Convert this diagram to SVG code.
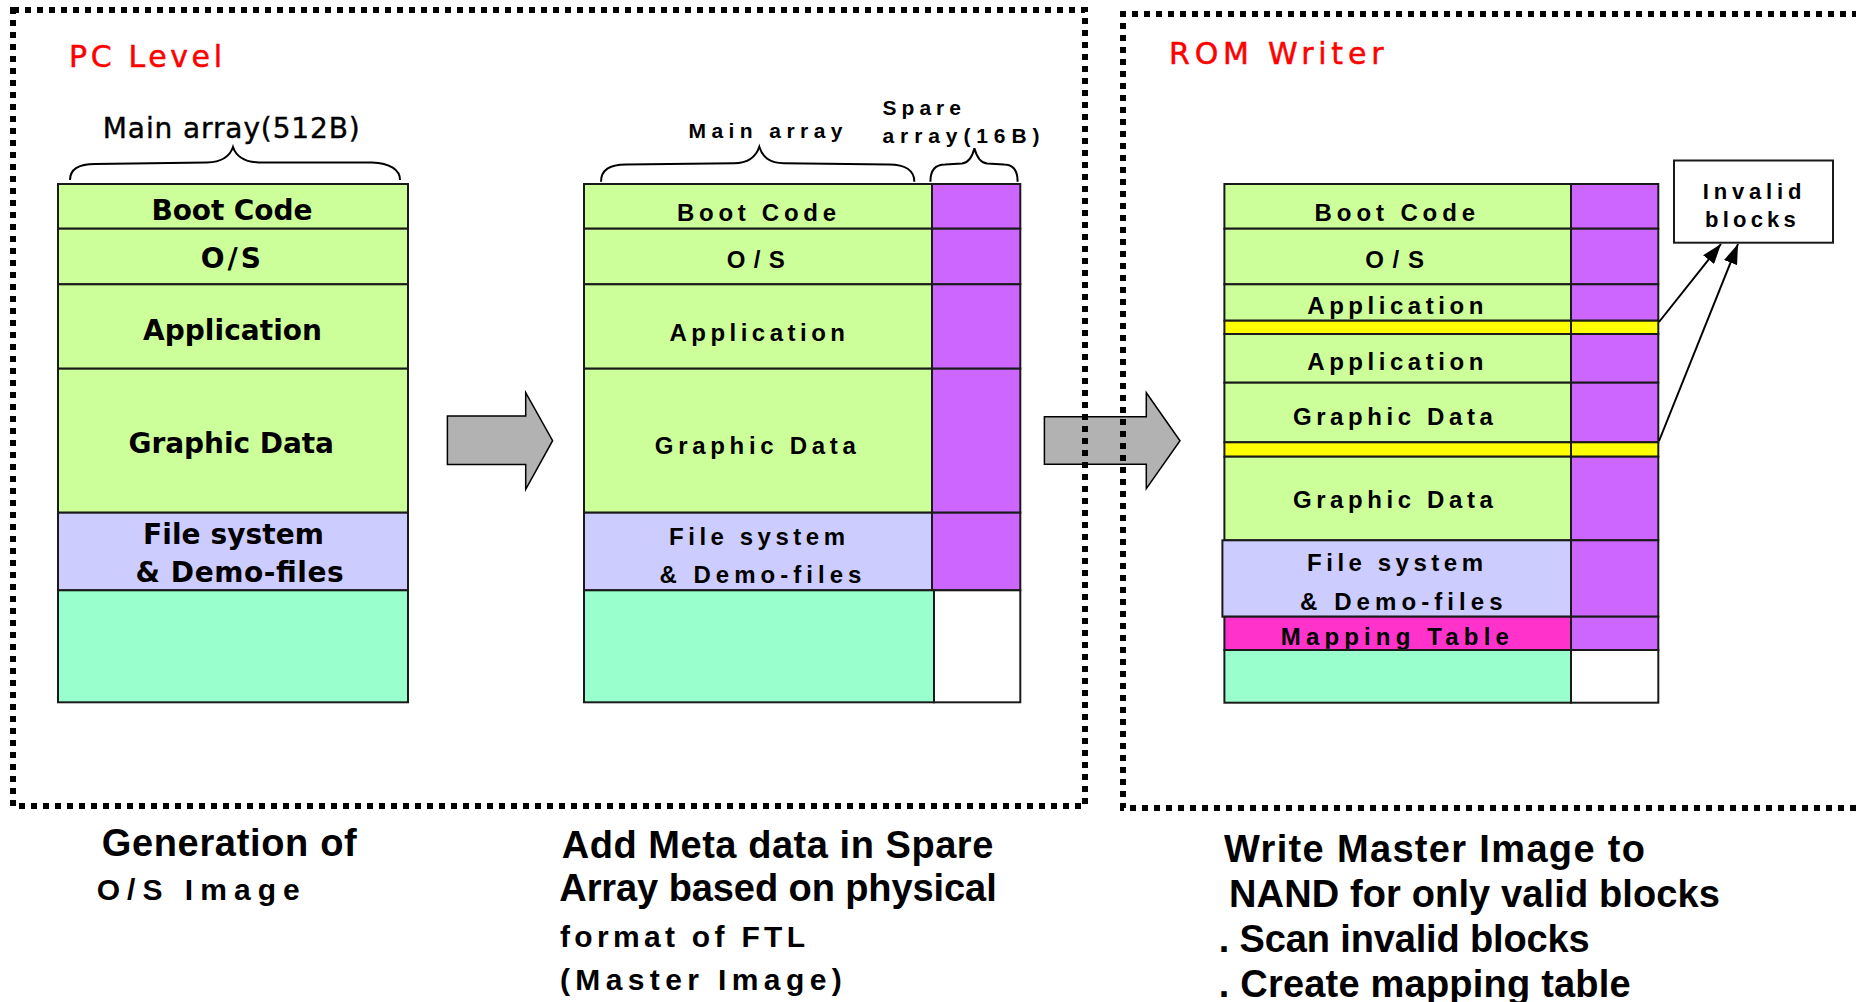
<svg xmlns="http://www.w3.org/2000/svg" width="1856" height="1002" viewBox="0 0 1856 1002">
<defs>
<style>
.frame{fill:none;stroke:#000;stroke-width:6;stroke-dasharray:6 6}
.cell{stroke:#1a1a1a;stroke-width:2}
.fg{fill:#CCFF99}.fp{fill:#CC66FF}.fl{fill:#CCCCFF}.ft{fill:#99FFCC}.fy{fill:#FFFF00}.fm{fill:#FF33CC}.fw{fill:#FFFFFF}
.brace{fill:none;stroke:#000;stroke-width:2}
.block{fill:#B2B2B2;stroke:#000;stroke-width:1.5}
.conn{fill:none;stroke:#000;stroke-width:2}
.title{font-family:"DejaVu Sans",Verdana,sans-serif;font-size:30px;fill:#FF0000;stroke:#FF0000;stroke-width:0.5}
.lab1{font-family:"DejaVu Sans",Verdana,sans-serif;font-weight:bold;font-size:28px;fill:#000}
.lab1r{font-family:"DejaVu Sans",Verdana,sans-serif;font-size:28px;fill:#000;stroke:#000;stroke-width:0.4}
.lab2{font-family:"Liberation Sans",Arial,sans-serif;font-weight:bold;font-size:24px;fill:#000}
.lab3{font-family:"Liberation Sans",Arial,sans-serif;font-weight:bold;font-size:21px;fill:#000}
.lab4{font-family:"Liberation Sans",Arial,sans-serif;font-weight:bold;font-size:22px;fill:#000}
.big{font-family:"Liberation Sans",Arial,sans-serif;font-weight:bold;font-size:38px;fill:#000}
.mid{font-family:"Liberation Sans",Arial,sans-serif;font-weight:bold;font-size:30px;fill:#000}
</style>
<marker id="ah" markerUnits="userSpaceOnUse" markerWidth="20" markerHeight="14" refX="20" refY="7" orient="auto">
<path d="M0,0 L20,7 L0,14 Z" fill="#000"/>
</marker>
</defs>
<rect width="1856" height="1002" fill="#FFFFFF"/>

<g id="flow-arrows">
<polygon class="block" points="447.4,416 525.7,416 525.7,392.7 552.6,440.7 525.7,489.3 525.7,464.5 447.4,464.5"/>
<polygon class="block" points="1044.4,416.7 1146.3,416.7 1146.3,392.7 1180,440.7 1146.3,488.7 1146.3,464.3 1044.4,464.3"/>
</g>

<g id="pc-level-frame">
<path class="frame" d="M13,10 H1085 V806 H13 Z"/>
<text class="title" x="69" y="66.7" textLength="153">PC Level</text>
</g>
<g id="rom-writer-frame">
<path class="frame" d="M1870,14 H1123 V808 H1870"/>
<text class="title" x="1169" y="64.3" textLength="214.5">ROM Writer</text>
</g>

<g id="pc-image">
<path class="brace" d="M70,180 C70,170 78,164 95,164 L207,162.5 C222,162 230,156 233,147 C236,156 244,162 259,162.5 L372,162.5 C390,163 400,170 400,180"/>
<text class="lab1r" x="102.8" y="138.3" textLength="257">Main array(512B)</text>
<g id="pc-boot"><rect class="cell fg" x="58" y="184" width="350" height="44.7"/><text class="lab1" x="151.4" y="220" textLength="161">Boot Code</text></g>
<g id="pc-os"><rect class="cell fg" x="58" y="228.7" width="350" height="55.6"/><text class="lab1" x="200.8" y="268.3" textLength="60">O/S</text></g>
<g id="pc-app"><rect class="cell fg" x="58" y="284.3" width="350" height="84.4"/><text class="lab1" x="143" y="340" textLength="179">Application</text></g>
<g id="pc-graphic"><rect class="cell fg" x="58" y="368.7" width="350" height="144"/><text class="lab1" x="128.5" y="453.3" textLength="205.5">Graphic Data</text></g>
<g id="pc-fs"><rect class="cell fl" x="58" y="512.7" width="350" height="77.6"/><text class="lab1" x="143" y="544" textLength="181">File system</text><text class="lab1" x="135.6" y="582.3" textLength="208">&amp; Demo-files</text></g>
<g id="pc-free"><rect class="cell ft" x="58" y="590.3" width="350" height="112"/></g>
</g>

<g id="master-image">
<path class="brace" d="M601,181.7 C601,171 609,164.5 626,164.5 L734,163.3 C749,163 756,157 759.3,146.7 C762.6,157 769,163 784,163.3 L889,164.5 C906,164.5 914.3,171 914.3,181.7"/>
<path class="brace" d="M930.4,181.7 C930.4,170 935,164.5 945,164.5 L962,163.5 C968,163 972,158 974.4,148.3 C977,158 981,163 987,163.5 L1004,164.5 C1013,164.5 1017.6,170 1017.6,181.7"/>
<text class="lab3" x="688.5" y="138.3" textLength="154">Main array</text>
<text class="lab3" x="882.5" y="115" textLength="78.5">Spare</text>
<text class="lab3" x="882.5" y="142.5" textLength="157">array(16B)</text>
<g id="mi-boot"><rect class="cell fg" x="584" y="184" width="348" height="44.7"/><rect class="cell fp" x="932" y="184" width="88.3" height="44.7"/><text class="lab2" x="677" y="220.7" textLength="159">Boot Code</text></g>
<g id="mi-os"><rect class="cell fg" x="584" y="228.7" width="348" height="55.6"/><rect class="cell fp" x="932" y="228.7" width="88.3" height="55.6"/><text class="lab2" x="726.8" y="268.3" textLength="58">O/S</text></g>
<g id="mi-app"><rect class="cell fg" x="584" y="284.3" width="348" height="84.4"/><rect class="cell fp" x="932" y="284.3" width="88.3" height="84.4"/><text class="lab2" x="669.4" y="340.7" textLength="175.6">Application</text></g>
<g id="mi-graphic"><rect class="cell fg" x="584" y="368.7" width="348" height="144"/><rect class="cell fp" x="932" y="368.7" width="88.3" height="144"/><text class="lab2" x="654.8" y="454" textLength="201">Graphic Data</text></g>
<g id="mi-fs"><rect class="cell fl" x="584" y="512.7" width="348" height="77.6"/><rect class="cell fp" x="932" y="512.7" width="88.3" height="77.6"/><text class="lab2" x="669" y="545" textLength="176">File system</text><text class="lab2" x="659.4" y="582.7" textLength="202">&amp; Demo-files</text></g>
<g id="mi-free"><rect class="cell ft" x="584" y="590.3" width="350" height="112"/><rect class="cell fw" x="934" y="590.3" width="86.3" height="112"/></g>
</g>

<g id="nand-image">
<g id="nd-boot"><rect class="cell fg" x="1224.4" y="184" width="346.6" height="44.7"/><rect class="cell fp" x="1571" y="184" width="87.3" height="44.7"/><text class="lab2" x="1314.6" y="220.7" textLength="160.5">Boot Code</text></g>
<g id="nd-os"><rect class="cell fg" x="1224.4" y="228.7" width="346.6" height="55.6"/><rect class="cell fp" x="1571" y="228.7" width="87.3" height="55.6"/><text class="lab2" x="1365.2" y="268.3" textLength="58.8">O/S</text></g>
<g id="nd-app1"><rect class="cell fg" x="1224.4" y="284.3" width="346.6" height="36.4"/><rect class="cell fp" x="1571" y="284.3" width="87.3" height="36.4"/><text class="lab2" x="1307.3" y="314.3" textLength="176">Application</text></g>
<g id="nd-bad1"><rect class="cell fy" x="1224.4" y="320.7" width="346.6" height="13.3"/><rect class="cell fy" x="1571" y="320.7" width="87.3" height="13.3"/></g>
<g id="nd-app2"><rect class="cell fg" x="1224.4" y="334" width="346.6" height="48.7"/><rect class="cell fp" x="1571" y="334" width="87.3" height="48.7"/><text class="lab2" x="1307.3" y="370" textLength="176">Application</text></g>
<g id="nd-graphic1"><rect class="cell fg" x="1224.4" y="382.7" width="346.6" height="59.6"/><rect class="cell fp" x="1571" y="382.7" width="87.3" height="59.6"/><text class="lab2" x="1292.9" y="425" textLength="200">Graphic Data</text></g>
<g id="nd-bad2"><rect class="cell fy" x="1224.4" y="442.3" width="346.6" height="14.4"/><rect class="cell fy" x="1571" y="442.3" width="87.3" height="14.4"/></g>
<g id="nd-graphic2"><rect class="cell fg" x="1224.4" y="456.7" width="346.6" height="83.6"/><rect class="cell fp" x="1571" y="456.7" width="87.3" height="83.6"/><text class="lab2" x="1292.9" y="508.3" textLength="200">Graphic Data</text></g>
<g id="nd-fs"><rect class="cell fl" x="1222.4" y="540.3" width="348.6" height="76.4"/><rect class="cell fp" x="1571" y="540.3" width="87.3" height="76.4"/><text class="lab2" x="1307" y="570.7" textLength="176">File system</text><text class="lab2" x="1300" y="610" textLength="202.6">&amp; Demo-files</text></g>
<g id="nd-map"><rect class="cell fm" x="1224.4" y="616.7" width="346.6" height="33.3"/><rect class="cell fp" x="1571" y="616.7" width="87.3" height="33.3"/><text class="lab2" x="1280.8" y="645" textLength="228">Mapping Table</text></g>
<g id="nd-free"><rect class="cell ft" x="1224.4" y="650" width="346.6" height="52.7"/><rect class="cell fw" x="1571" y="650" width="87.3" height="52.7"/></g>
</g>

<g id="invalid-blocks">
<rect x="1674" y="160.5" width="159" height="82.2" fill="#FFFFFF" stroke="#1a1a1a" stroke-width="2"/>
<text class="lab4" x="1702.7" y="199.3" textLength="98.8">Invalid</text>
<text class="lab4" x="1705" y="227.3" textLength="90.8">blocks</text>
</g>

<g id="connectors">
<line class="conn" x1="1659" y1="322" x2="1721" y2="244" marker-end="url(#ah)"/>
<line class="conn" x1="1659" y1="441" x2="1738" y2="244" marker-end="url(#ah)"/>
</g>

<g id="captions">
<text class="big" x="101.7" y="856" textLength="255">Generation of</text>
<text class="mid" x="96.7" y="899.5" textLength="203">O/S Image</text>
<text class="big" x="561.7" y="857.5" textLength="431.6">Add Meta data in Spare</text>
<text class="big" x="559.3" y="901" textLength="437.4">Array based on physical</text>
<text class="mid" x="560" y="946.7" textLength="245">format of FTL</text>
<text class="mid" x="560" y="990" textLength="281.7">(Master Image)</text>
<text class="big" x="1224" y="862" textLength="421">Write Master Image to</text>
<text class="big" x="1229" y="907" textLength="491">NAND for only valid blocks</text>
<text class="big" x="1218.7" y="952" textLength="371">. Scan invalid blocks</text>
<text class="big" x="1218.7" y="997" textLength="412">. Create mapping table</text>
</g>
</svg>
